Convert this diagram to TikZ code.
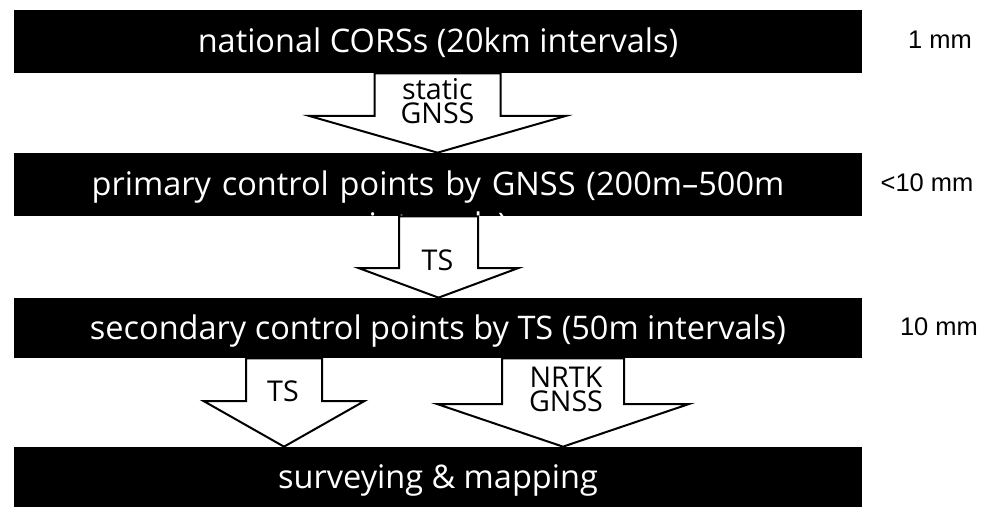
\documentclass[tikz,border=0pt]{standalone}
\usepackage{fontspec}
\setmainfont{Open Sans}
\newfontfamily\labelfont{Liberation Sans}
\usetikzlibrary{calc}

\tikzset{
  tier/.style={rectangle, fill=black, text=white, inner sep=0pt,
    minimum width=16.96cm, text height=0.46cm, text depth=0pt,
    font=\fontsize{18.5}{23}\selectfont},
  blockarrow/.style={draw=black, fill=white, line width=0.04cm, line join=miter},
  methodlabel/.style={inner sep=0pt, align=center, font=\fontsize{16.3}{14}\selectfont},
  accuracy/.style={inner sep=0pt, font=\labelfont\fontsize{14.5}{17}\selectfont},
}

\begin{document}
\begin{tikzpicture}[x=0.02cm, y=-0.02cm]
    \useasboundingbox (0,0) rectangle (1000,513);

    \node[tier, minimum height=1.26cm] (cors) at (438, 41.5) {national CORSs (20km intervals)};
    \node[tier, minimum height=1.26cm, text width=15.6cm, align=center] (primary) at (438, 184.5) {primary control points by GNSS (200m–500m\\intervals)};
    \node[tier, minimum height=1.2cm] (secondary) at (438, 328) {secondary control points by TS (50m intervals)};
    \node[tier, minimum height=1.2cm] (survey) at (438, 477) {surveying \& mapping};

    \node[accuracy] (acc1) at (940, 40) {1 mm};
    \node[accuracy] (acc2) at (927, 183) {<10 mm};
    \node[accuracy] (acc3) at (939, 327) {10 mm};

    \draw[blockarrow] let \p1 = (cors.south), \p2 = (primary.north) in
        (374.5,\y1) -- (374.5,116) -- (309.5,116) -- (437.5,\y2) -- (565.5,116) -- (500.5,116) -- (500.5,\y1) -- cycle;
    \draw[blockarrow] let \p1 = (primary.south), \p2 = (secondary.north) in
        (399,\y1) -- (399,268) -- (358.5,268) -- (438.5,\y2) -- (518.5,268) -- (478,268) -- (478,\y1) -- cycle;
    \draw[blockarrow] let \p1 = (secondary.south), \p2 = (survey.north) in
        (246,\y1) -- (246,401) -- (203.5,401) -- (284,\y2) -- (364.5,401) -- (322,401) -- (322,\y1) -- cycle;
    \draw[blockarrow] let \p1 = (secondary.south), \p2 = (survey.north) in
        (502,\y1) -- (502,404) -- (437,404) -- (563,\y2) -- (689,404) -- (624,404) -- (624,\y1) -- cycle;

    \node[methodlabel] (static) at (437.5, 101) {static\\GNSS};
    \node[methodlabel] (ts1) at (437.5, 260) {TS};
    \node[methodlabel] (ts2) at (283, 391) {TS};
    \node[methodlabel] (nrtk) at (566, 389.5) {NRTK\\GNSS};
\end{tikzpicture}
\end{document}
